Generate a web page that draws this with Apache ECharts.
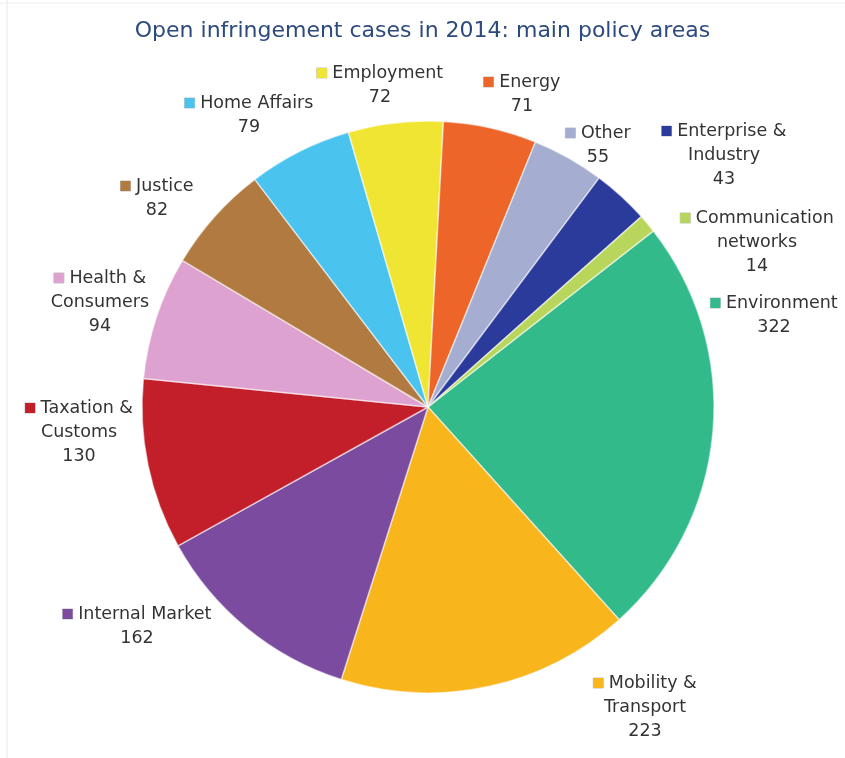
<!DOCTYPE html>
<html>
<head>
<meta charset="utf-8">
<script src="https://cdn.jsdelivr.net/npm/echarts@6/dist/echarts.min.js"></script>
<style>
html,body{margin:0;padding:0;background:#fff;}
#chart{width:845px;height:758px;}
</style>
</head>
<body>
<div id="chart"></div>
<script>
// ---- data ----
var categories = ["Environment", "Mobility &\nTransport", "Internal Market", "Taxation &\nCustoms",
  "Health &\nConsumers", "Justice", "Home Affairs", "Employment", "Energy", "Other",
  "Enterprise &\nIndustry", "Communication\nnetworks"];
var values = [322, 223, 162, 130, 94, 82, 79, 72, 71, 55, 43, 14];
var colors = ["#33BA8A", "#F8B51C", "#7B4B9F", "#C21F2B", "#DEA2D0", "#B07A40", "#4AC4EF",
  "#F1E534", "#EE6529", "#A5AED0", "#2B3B9B", "#B9D65C"];
// label block centres (text placement only)
var labelPos = [[774, 315], [645, 707], [137, 626], [79, 432], [100, 302], [157, 198],
  [249, 115], [380, 85], [522, 94], [598, 145], [724, 155], [757, 242]];

var chart = echarts.init(document.getElementById('chart'));
var rich = {};
colors.forEach(function (c, i) {
  rich['m' + i] = { width: 10, height: 10, backgroundColor: c, borderColor: 'rgba(0,0,0,0.25)', borderWidth: 0.5 };
});
rich.t = { fontFamily: 'DejaVu Sans', fontSize: 17.5, color: '#333', lineHeight: 24 };

var data = categories.map(function (n, i) {
  return { name: n, value: values[i], itemStyle: { color: colors[i] } };
});

chart.setOption({
  animation: false,
  title: {
    text: 'Open infringement cases in 2014: main policy areas',
    left: 'center', top: 15,
    textStyle: { fontFamily: 'DejaVu Sans', fontSize: 22, fontWeight: 'normal', color: '#2D4A7E' }
  },
  graphic: [
    { type: 'line', shape: { x1: 7, y1: 0, x2: 7, y2: 758 }, style: { stroke: '#e8e8e8', lineWidth: 1 } },
    { type: 'line', shape: { x1: 0, y1: 3, x2: 845, y2: 3 }, style: { stroke: '#eeeeee', lineWidth: 1 } }
  ],
  series: [{
    type: 'pie',
    center: [428, 407],
    radius: [0, 286],
    startAngle: 38,
    clockwise: true,
    avoidLabelOverlap: false,
    itemStyle: { borderColor: 'rgba(255,255,255,0.55)', borderWidth: 1.5 },
    label: {
      show: true,
      position: 'outside',
      align: 'center',
      rich: rich,
      formatter: function (p) {
        var lines = p.name.split('\n');
        var out = '{m' + p.dataIndex + '|}{t| ' + lines[0] + '}';
        for (var k = 1; k < lines.length; k++) out += '\n{t|' + lines[k] + '}';
        out += '\n{t|' + p.value + '}';
        return out;
      }
    },
    labelLine: { show: false },
    labelLayout: function (params) {
      var pos = labelPos[params.dataIndex];
      return { x: pos[0], y: pos[1], align: 'center', verticalAlign: 'middle', hideOverlap: false };
    },
    emphasis: { disabled: true },
    data: data
  }]
});
</script>
</body>
</html>
